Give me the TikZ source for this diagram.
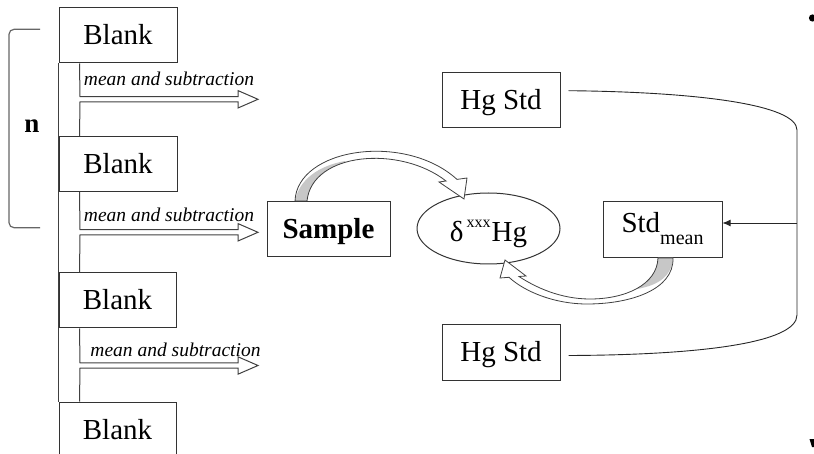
\documentclass[tikz,border=0pt]{standalone}
\usepackage{fontspec}
\setmainfont{Liberation Serif}
\usetikzlibrary{shapes.geometric,arrows.meta,calc}
\begin{document}
\begin{tikzpicture}[x=1pt,y=-1pt,
  box/.style={draw=black!80,line width=1pt,fill=white,minimum width=118pt,minimum height=55pt,inner sep=0pt,font=\fontsize{29}{29}\selectfont,text height=19pt,text depth=0pt},
  hollow/.style={draw=black!75,line width=1pt,line join=miter},
  lbl/.style={font=\itshape\fontsize{19.5}{19.5}\selectfont,inner sep=0pt,anchor=base},
  band/.style={draw=black!75,line width=0.8pt,line join=miter},
  conn/.style={draw=black!85,line width=0.9pt}]
\useasboundingbox (0,0) rectangle (814,454);

% left column of blanks
\node[box] (b1) at (118,35.5) {Blank};
\node[box] (b2) at (118,164) {Blank};
\node[box,minimum width=117pt] (b3) at (117.5,300.5) {Blank};
\node[box,minimum width=117pt] (b4) at (117.5,429.5) {Blank};
\draw[hollow] (b1.south west) -- (b4.north west);

% hollow arrows
\draw[hollow] ($(b1.south west)+(21,0)$) -- (80,96.7) -- (238,96.7) -- (238,90.6) -- (258,99.3) -- (238,108) -- (238,101.9) -- (80,101.9) -- ($(b2.north west)+(21,0)$);
\draw[hollow] ($(b2.south west)+(21,0)$) -- (80,229.7) -- (238,229.7) -- (238,223.6) -- (258,232.3) -- (238,241) -- (238,234.9) -- (80,234.9) -- ($(b3.north west)+(21,0)$);
\draw[hollow] ($(b3.south west)+(21,0)$) -- (80,362.9) -- (238,362.9) -- (238,356.8) -- (258,365.5) -- (238,374.2) -- (238,368.1) -- (80,368.1) -- ($(b4.north west)+(21,0)$);

\node[lbl] (l1) at (169,86) {mean and subtraction};
\node[lbl] (l2) at (169,221.5) {mean and subtraction};
\node[lbl] (l3) at (175.5,356) {mean and subtraction};

% bracket
\draw[black!60,line width=1.2pt,rounded corners=5pt] (40,29.3) -- (9,29.3) -- (9,227.7) -- (40,227.7);
\node[font=\bfseries\fontsize{27}{27}\selectfont,inner sep=0pt] (n) at (32,126) {n};

% middle
\node[box,font=\bfseries\fontsize{29}{29}\selectfont,minimum width=123pt] (sample) at (328.5,229.5) {Sample};
\node[ellipse,draw=black!80,line width=1pt,fill=white,minimum width=143pt,minimum height=71pt,inner sep=0pt,font=\fontsize{29}{29}\selectfont,text height=26pt,text depth=0pt] (delta) at (488.5,228.5) {δ\hspace{3pt}\raisebox{14pt}{\fontsize{16}{16}\selectfont xxx}\hspace{1pt}Hg};
\node[box,minimum width=119pt,minimum height=56pt,text height=6pt] (stdm) at (662.5,230) {Std\raisebox{-12pt}{\fontsize{20}{20}\selectfont mean}};
\node[box] (hg1) at (501,100.5) {Hg Std};
\node[box] (hg2) at (501,352.5) {Hg Std};

% curved arrow sample -> delta
\fill[white] (295,201) .. controls (297,148) and (405,132) .. (457,179.4) -- (467,178) -- (464,199) -- (439,182) -- (446,181) .. controls (400,145) and (312,152) .. (307,201) -- cycle;
\begin{scope}
\clip (295,201) .. controls (297,148) and (405,132) .. (457,179.4) -- (467,178) -- (464,199) -- (439,182) -- (446,181) .. controls (400,145) and (312,152) .. (307,201) -- cycle;
\fill[black!22] (295,201) .. controls (299,180) and (318,166) .. (345,161) -- (350,178) -- (320,215) -- (285,215) -- cycle;
\end{scope}
\draw[band] (295,201) .. controls (297,148) and (405,132) .. (457,179.4) -- (467,178) -- (464,199) -- (439,182) -- (446,181) .. controls (400,145) and (312,152) .. (307,201) -- cycle;

% curved arrow std_mean -> delta
\fill[white] (673,258) .. controls (674,290) and (630,304) .. (587,304) .. controls (555,304) and (525,292) .. (509,277.3) -- (500,278) -- (505,260) -- (526,276) -- (519,276.5) .. controls (535,287) and (560,299) .. (590,299) .. controls (625,299) and (657,285) .. (658,258) -- cycle;
\begin{scope}
\clip (673,258) .. controls (674,290) and (630,304) .. (587,304) .. controls (555,304) and (525,292) .. (509,277.3) -- (500,278) -- (505,260) -- (526,276) -- (519,276.5) .. controls (535,287) and (560,299) .. (590,299) .. controls (625,299) and (657,285) .. (658,258) -- cycle;
\fill[black!22] (673,258) .. controls (672,275) and (660,285) .. (637,289) -- (625,280) -- (650,245) -- (680,245) -- cycle;
\end{scope}
\draw[band] (673,258) .. controls (674,290) and (630,304) .. (587,304) .. controls (555,304) and (525,292) .. (509,277.3) -- (500,278) -- (505,260) -- (526,276) -- (519,276.5) .. controls (535,287) and (560,299) .. (590,299) .. controls (625,299) and (657,285) .. (658,258) -- cycle;

% right connector
\coordinate (t1) at ($(hg1.east)+(8,-9.8)$);
\coordinate (t2) at ($(hg2.east)+(8,3)$);
\coordinate (r1) at (797,130);
\coordinate (r2) at (797,315);
\coordinate (rj) at (797,223);
\draw[conn] (t1) .. controls (700,92) and (797,105) .. (r1) -- (r2) .. controls (797,343) and (700,355) .. (t2);
\draw[conn,-{Latex[length=8pt,width=7pt]}] (rj) -- (rj -| stdm.east);

% slide remnants at the right edge
\fill (812.5,18) circle (3.6pt);
\fill (809.5,439) -- (814,439) -- (814,447) -- (812,447) -- cycle;
\end{tikzpicture}
\end{document}
